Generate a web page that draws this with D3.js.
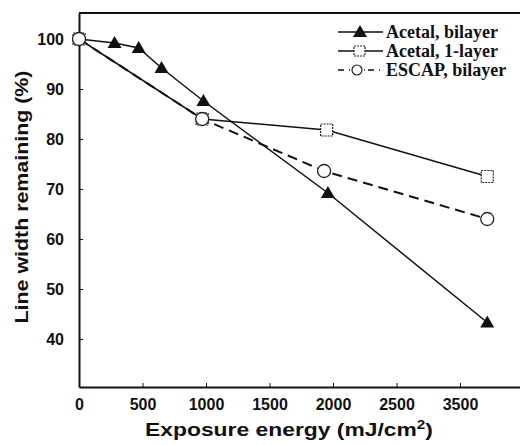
<!doctype html>
<html lang="en">
<head>
<meta charset="utf-8" />
<title>Line width remaining vs exposure energy</title>
<style>
    html, body { margin: 0; background: #fff; }
    svg { display: block; }
    .tick text { font-family: "Liberation Sans", Arial, sans-serif; font-weight: bold; font-size: 16px; fill: #111; }
    .title { font-family: "Liberation Sans", Arial, sans-serif; font-weight: bold; fill: #111; }
    .legend text { font-family: "Liberation Serif", "Times New Roman", serif; font-weight: bold; font-size: 18px; fill: #111; }
</style>
<script src="https://cdn.jsdelivr.net/npm/d3@7"></script>
</head>
<body>
<div id="chart"></div>
<script>
// values
const bilayerEnergy = [0, 280, 470, 650, 980, 1960, 3750];
const bilayerWidth  = [100, 99.2, 98.2, 94.2, 87.6, 69.2, 43.3];
const oneLayerEnergy = [0, 970, 1950, 3750];
const oneLayerWidth  = [100, 84.0, 81.8, 72.5];
const escapEnergy = [0, 970, 1930, 3750];
const escapWidth  = [100, 84.0, 73.6, 64.0];

const xTicks = [0, 500, 1000, 1500, 2000, 2500, 3500];
const yTicks = [40, 50, 60, 70, 80, 90, 100];
const seriesNames = ["Acetal, bilayer", "Acetal, 1-layer", "ESCAP, bilayer"];

const W = 520, H = 445;
const margin = {top: 13, right: 0, bottom: 58, left: 79};
const width = W - margin.left - margin.right;
const height = H - margin.top - margin.bottom;

const svg = d3.select("#chart").append("svg")
    .attr("width", W).attr("height", H);
const g = svg.append("g").attr("transform", `translate(${margin.left},${margin.top})`);

// the original axis is not linear past 2500 (3000 is skipped)
const x = d3.scaleLinear()
    .domain([0, 2500, 3500, 4050])
    .range([0, 317.5, 381, width]);
const y = d3.scaleLinear().domain([30.4, 105.2]).range([height, 0]);

// top frame line
g.append("line")
    .attr("x1", 0).attr("x2", width).attr("y1", 0).attr("y2", 0)
    .attr("stroke", "#111").attr("stroke-width", 2);

const xAxis = g.append("g")
    .attr("transform", `translate(0,${height})`)
    .call(d3.axisBottom(x).tickValues(xTicks).tickFormat(d3.format("d"))
        .tickSizeInner(-4).tickSizeOuter(0).tickPadding(12));
xAxis.select(".domain").attr("stroke-width", 2).attr("stroke", "#111");
xAxis.selectAll(".tick line").attr("stroke", "#111");

const yAxis = g.append("g")
    .call(d3.axisLeft(y).tickValues(yTicks).tickFormat(d3.format("d"))
        .tickSizeInner(-4).tickSizeOuter(0).tickPadding(15));
yAxis.select(".domain").attr("stroke-width", 2).attr("stroke", "#111");
yAxis.selectAll(".tick line").attr("stroke", "#111");
yAxis.selectAll(".tick text").attr("dy", "0.36em");

// axis titles
svg.append("text").attr("class", "title")
    .attr("x", 289).attr("y", 436)
    .attr("text-anchor", "middle")
    .attr("font-size", 18)
    .attr("textLength", 288).attr("lengthAdjust", "spacingAndGlyphs")
    .text("Exposure energy (mJ/cm")
  .append("tspan").attr("font-size", 12).attr("dy", -7).text("2")
  .clone(true).attr("font-size", 18).attr("dy", 7).text(")");

svg.append("text").attr("class", "title")
    .attr("transform", "translate(28,197) rotate(-90)")
    .attr("text-anchor", "middle")
    .attr("font-size", 18)
    .attr("textLength", 253).attr("lengthAdjust", "spacingAndGlyphs")
    .text("Line width remaining (%)");

const line = d3.line().x(d => x(d[0])).y(d => y(d[1]));
const zip = (a, b) => a.map((v, i) => [v, b[i]]);

const bilayer = zip(bilayerEnergy, bilayerWidth);
const oneLayer = zip(oneLayerEnergy, oneLayerWidth);
const escap = zip(escapEnergy, escapWidth);

g.append("path").datum(oneLayer).attr("d", line)
    .attr("fill", "none").attr("stroke", "#111").attr("stroke-width", 1.5);
g.append("path").datum(escap).attr("d", line)
    .attr("fill", "none").attr("stroke", "#111").attr("stroke-width", 2)
    .attr("stroke-dasharray", "10,6");
g.append("path").datum(bilayer).attr("d", line)
    .attr("fill", "none").attr("stroke", "#111").attr("stroke-width", 1.5);

const tri = d3.symbol().type(d3.symbolTriangle).size(85);

function squares(sel, data) {
  sel.selectAll(null).data(data).join("rect")
      .attr("x", d => x(d[0]) - 6).attr("y", d => y(d[1]) - 6)
      .attr("width", 12).attr("height", 12)
      .attr("fill", "#fff").attr("stroke", "#222").attr("stroke-width", 1.2)
      .attr("stroke-dasharray", "2,1");
}
function circles(sel, data) {
  sel.selectAll(null).data(data).join("circle")
      .attr("cx", d => x(d[0])).attr("cy", d => y(d[1])).attr("r", 6.5)
      .attr("fill", "#fff").attr("stroke", "#222").attr("stroke-width", 1.3);
}
function triangles(sel, data) {
  sel.selectAll(null).data(data).join("path")
      .attr("d", tri)
      .attr("transform", d => `translate(${x(d[0])},${y(d[1]) + 1})`)
      .attr("fill", "#111");
}

squares(g.append("g"), oneLayer);
triangles(g.append("g"), bilayer.slice(1));
circles(g.append("g"), escap);

// legend
const legend = svg.append("g").attr("class", "legend");
const rowY = [32, 51, 70];
seriesNames.forEach((name, i) => {
  const row = legend.append("g").attr("transform", `translate(0,${rowY[i]})`);
  row.append("line").attr("x1", 338).attr("x2", 383).attr("y1", 0).attr("y2", 0)
      .attr("stroke", "#111").attr("stroke-width", 1.5)
      .attr("stroke-dasharray", i === 2 ? "6,5,1,3" : null);
  if (i === 0) {
    row.append("path").attr("d", tri).attr("transform", "translate(360,1)").attr("fill", "#111");
  } else if (i === 1) {
    row.append("rect").attr("x", 354).attr("y", -5).attr("width", 11).attr("height", 10)
        .attr("fill", "#fff").attr("stroke", "#222").attr("stroke-width", 1.2).attr("stroke-dasharray", "2,1");
  } else {
    row.append("circle").attr("cx", 357).attr("cy", 0).attr("r", 5)
        .attr("fill", "#fff").attr("stroke", "#222").attr("stroke-width", 1.2);
  }
  row.append("text").attr("x", 386).attr("y", 6).text(name);
});
</script>
</body>
</html>
